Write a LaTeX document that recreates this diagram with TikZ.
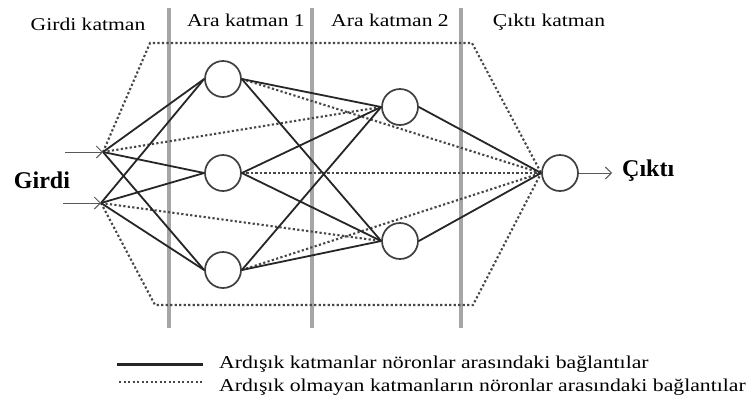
\documentclass[tikz,border=0pt]{standalone}
\usepackage{fontspec}
\setmainfont{Liberation Serif}
\newfontfamily\widefont[FakeStretch=1.2]{Liberation Serif}
\usetikzlibrary{arrows.meta}
\begin{document}
\begin{tikzpicture}[x=1pt,y=-1pt,
  neuron/.style={circle,draw=black!75,line width=1.7pt,minimum size=36pt,inner sep=0pt,fill=white},
  conn/.style={draw=black!85,line width=1.8pt},
  skipconn/.style={draw=black!72,line width=2.1pt,dash pattern=on 2.2pt off 2.3pt},
  layerbar/.style={draw=black!35,line width=4.5pt},
  inarrow/.style={draw=black!65,line width=1pt,-{Straight Barb[length=6pt,width=12pt]}},
  layerlabel/.style={font=\widefont\fontsize{18}{20}\selectfont,anchor=base,inner sep=0pt},
  biglabel/.style={font=\bfseries\fontsize{24}{26}\selectfont,anchor=base,inner sep=0pt},
  legendtext/.style={font=\widefont\fontsize{18.1}{20}\selectfont,anchor=base west,inner sep=0pt}]
\useasboundingbox (0,0) rectangle (755,400);
\fill[white] (0,0) rectangle (755,400);

% layer separators
\coordinate (B1t) at (169,8);   \coordinate (B1b) at (169,328);
\coordinate (B2t) at (312,8);   \coordinate (B2b) at (312,328);
\coordinate (B3t) at (461,8);   \coordinate (B3b) at (461,328);
\draw[layerbar] (B1t) -- (B1b);
\draw[layerbar] (B2t) -- (B2b);
\draw[layerbar] (B3t) -- (B3b);

% layer labels
\node[layerlabel] (lab1) at (88,30) {Girdi katman};
\node[layerlabel] (lab2) at (246,26) {Ara katman 1};
\node[layerlabel] (lab3) at (390,26) {Ara katman 2};
\node[layerlabel] (lab4) at (549,26) {Çıktı katman};

% inputs
\coordinate (I1) at (103,152);
\coordinate (I2) at (101,203);
\coordinate (A1) at (65,152);
\coordinate (A2) at (63,203);

% neurons
\node[neuron] (H1a) at (223,79) {};
\node[neuron] (H1b) at (223,173) {};
\node[neuron] (H1c) at (223,270) {};
\node[neuron] (H2a) at (400,107) {};
\node[neuron] (H2b) at (400,241) {};
\node[neuron] (O) at (560,173) {};

% polygon corners
\coordinate (PT1) at (150,43);
\coordinate (PT2) at (472,43);
\coordinate (PB1) at (155,305);
\coordinate (PB2) at (473,305);
\coordinate (OUT) at (612,173);

% skip connections (dotted)
\draw[skipconn] (I1) -- (PT1) -- (PT2) -- (O.west);
\draw[skipconn] (I2) -- (PB1) -- (PB2) -- (O.west);
\draw[skipconn] (I1) -- (H2a.west);
\draw[skipconn] (I2) -- (H2b.west);
\draw[skipconn] (H1a.east) -- (O.west);
\draw[skipconn] (H1b.east) -- (O.west);
\draw[skipconn] (H1c.east) -- (O.west);

% consecutive connections (solid)
\foreach \i in {I1,I2}{
  \foreach \h in {H1a,H1b,H1c}{
    \draw[conn] (\i) -- (\h.west);
  }
}
\foreach \h in {H1a,H1b,H1c}{
  \foreach \k in {H2a,H2b}{
    \draw[conn] (\h.east) -- (\k.west);
  }
}
\draw[conn] (H2a.east) -- (O.west);
\draw[conn] (H2b.east) -- (O.west);

% input / output arrows
\draw[inarrow] (A1) -- (I1);
\draw[inarrow] (A2) -- (I2);
\draw[inarrow] (O.east) -- (OUT);

\node[biglabel] (girdi) at (42,188) {Girdi};
\node[biglabel,anchor=base west] (cikti) at (622,176) {Çıktı};

% legend
\coordinate (L1s) at (117,364); \coordinate (L1e) at (203,364);
\coordinate (L2s) at (119,382); \coordinate (L2e) at (203,382);
\draw[conn,line width=3pt] (L1s) -- (L1e);
\draw[skipconn] (L2s) -- (L2e);
\node[legendtext] (leg1) at (219,368) {Ardışık katmanlar nöronlar arasındaki bağlantılar};
\node[legendtext] (leg2) at (219,391) {Ardışık olmayan katmanların nöronlar arasındaki bağlantılar};
\end{tikzpicture}
\end{document}
